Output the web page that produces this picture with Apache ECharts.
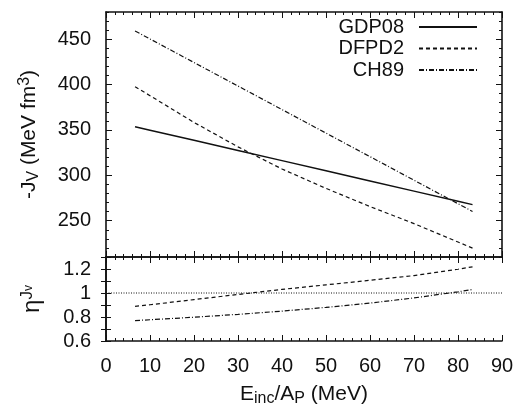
<!DOCTYPE html>
<html><head><meta charset="utf-8">
<script src="https://cdn.jsdelivr.net/npm/echarts@6/dist/echarts.min.js"></script>
<style>html,body{margin:0;padding:0;background:#fff}#c{width:529px;height:410px}</style>
</head><body><div id="c"></div>
<script>
// Data
const energies = [6.6, 10, 20, 30, 40, 50, 60, 70, 80, 83.3];
const gdp08 = [353.6, 349.8, 338.6, 327.4, 316.2, 305.0, 293.8, 282.6, 271.4, 267.7];
const dfpd2 = [397.7, 387.8, 358.3, 331.4, 307.0, 285.6, 265.6, 246.8, 226.5, 219.8];
const ch89 = [459.1, 450.3, 424.3, 398.4, 372.5, 346.5, 320.6, 294.6, 268.7, 260.2];
const etaDfpd2 = [0.889, 0.902, 0.945, 0.988, 1.030, 1.068, 1.106, 1.145, 1.198, 1.218];
const etaCh89 = [0.770, 0.777, 0.798, 0.822, 0.849, 0.880, 0.916, 0.959, 1.010, 1.029];
const refX = [0, 90];
const refEta = [1, 1];
const topTickLabels = [250, 300, 350, 400, 450];
const bottomTickLabels = [0.6, 0.8, 1, 1.2];
const seriesNames = ['GDP08', 'DFPD2', 'CH89'];

const pairs = (xs, ys) => xs.map((x, i) => [x, ys[i]]);
const FONT = 'Liberation Sans, Arial, sans-serif';
const INK = '#111';
const FS = 20;
const axisLine = { show: true, lineStyle: { color: INK, width: 1.6 } };

function xAx(grid, pos, labels, extra) {
  return Object.assign({
    type: 'value', gridIndex: grid, position: pos, min: 0, max: 90, interval: 10,
    axisLine: axisLine,
    axisTick: { show: true, inside: true, length: 6, lineStyle: { color: INK, width: 1 } },
    minorTick: { show: true, splitNumber: 5, length: 3, lineStyle: { color: INK, width: 1 } },
    axisLabel: { show: labels, color: INK, fontSize: FS, fontFamily: FONT, margin: 15 },
    splitLine: { show: false }, minorSplitLine: { show: false }
  }, extra || {});
}

const option = {
  animation: false,
  backgroundColor: '#fff',
  textStyle: { fontFamily: FONT, color: INK },
  grid: [
    { left: 106, top: 12, width: 396, height: 245, containLabel: false },
    { left: 106, top: 257, width: 396, height: 84, containLabel: false }
  ],
  legend: seriesNames.map((n, i) => ({
    data: [n], orient: 'vertical', align: 'right', right: 51, top: 17 + i * 21.5,
    padding: 0, itemWidth: 58, itemHeight: 10,
    itemStyle: { opacity: 0 },
    textStyle: { fontSize: FS, color: INK, fontFamily: FONT, padding: [0, 10, 0, 0] },
    selectedMode: false
  })),
  xAxis: [
    xAx(0, 'bottom', false),
    xAx(0, 'top', false),
    xAx(1, 'bottom', true, {
      name: 'E{sub|inc}/A{sub|P} (MeV)', nameLocation: 'middle', nameGap: 41,
      nameTextStyle: { fontSize: 21, color: INK, fontFamily: FONT,
        rich: { sub: { fontSize: 16, verticalAlign: 'bottom', padding: [9, 0, 0, 0], fontFamily: FONT, color: INK } } }
    }),
    xAx(1, 'top', false)
  ],
  yAxis: [
    { type: 'value', gridIndex: 0, position: 'left', min: 210, max: 480, interval: 10,
      axisLine: axisLine,
      axisTick: { show: true, inside: true, length: 3, lineStyle: { color: INK, width: 1 } },
      axisLabel: { show: true, customValues: topTickLabels, color: INK, fontSize: FS, fontFamily: FONT, margin: 15 },
      splitLine: { show: false },
      name: '-J{sub|V} (MeV fm{sup|3})', nameLocation: 'middle', nameRotate: 90, nameGap: 64,
      nameTextStyle: { fontSize: 21, color: INK, fontFamily: FONT,
        rich: {
          sub: { fontSize: 16, verticalAlign: 'bottom', padding: [9, 0, 0, 0], fontFamily: FONT, color: INK },
          sup: { fontSize: 16, verticalAlign: 'top', padding: [0, 0, 9, 0], fontFamily: FONT, color: INK }
        } } },
    { type: 'value', gridIndex: 0, position: 'left', min: 210, max: 480,
      axisLine: { show: false },
      axisTick: { show: true, inside: true, length: 6, customValues: topTickLabels, lineStyle: { color: INK, width: 1 } },
      axisLabel: { show: false }, splitLine: { show: false } },
    { type: 'value', gridIndex: 0, position: 'right', min: 210, max: 480, interval: 10,
      axisLine: axisLine,
      axisTick: { show: true, inside: true, length: 3, lineStyle: { color: INK, width: 1 } },
      axisLabel: { show: false }, splitLine: { show: false } },
    { type: 'value', gridIndex: 0, position: 'right', min: 210, max: 480,
      axisLine: { show: false },
      axisTick: { show: true, inside: true, length: 6, customValues: topTickLabels, lineStyle: { color: INK, width: 1 } },
      axisLabel: { show: false }, splitLine: { show: false } },
    { type: 'value', gridIndex: 1, position: 'left', min: 0.6, max: 1.3, interval: 0.1,
      axisLine: axisLine,
      axisTick: { show: true, inside: true, length: 5, lineStyle: { color: INK, width: 1 } },
      axisLabel: { show: true, customValues: bottomTickLabels, color: INK, fontSize: FS, fontFamily: FONT, margin: 15 },
      splitLine: { show: false },
      name: '{eta|η}{sup|J}{ss|v}', nameLocation: 'middle', nameRotate: 90, nameGap: 60,
      nameTextStyle: { fontSize: FS, color: INK, fontFamily: FONT,
        rich: {
          eta: { fontSize: 24, fontFamily: FONT, color: INK },
          sup: { fontSize: 17, verticalAlign: 'top', padding: [0, 0, 10, 0], fontFamily: FONT, color: INK },
          ss: { fontSize: 12, verticalAlign: 'top', padding: [4, 0, 0, 0], fontFamily: FONT, color: INK }
        } } },
    { type: 'value', gridIndex: 1, position: 'right', min: 0.6, max: 1.3, interval: 0.1,
      axisLine: axisLine,
      axisTick: { show: true, inside: true, length: 5, lineStyle: { color: INK, width: 1 } },
      axisLabel: { show: false }, splitLine: { show: false } }
  ],
  series: [
    { name: 'GDP08', type: 'line', xAxisIndex: 0, yAxisIndex: 0, symbol: 'none', silent: true,
      data: pairs(energies, gdp08), lineStyle: { color: INK, width: 1.5, type: 'solid' }, itemStyle: { color: INK } },
    { name: 'DFPD2', type: 'line', xAxisIndex: 0, yAxisIndex: 0, symbol: 'none', silent: true,
      data: pairs(energies, dfpd2), lineStyle: { color: INK, width: 1.2, type: [4, 3] }, itemStyle: { color: INK } },
    { name: 'CH89', type: 'line', xAxisIndex: 0, yAxisIndex: 0, symbol: 'none', silent: true,
      data: pairs(energies, ch89), lineStyle: { color: INK, width: 1.2, type: [5, 2, 1, 2] }, itemStyle: { color: INK } },
    { name: 'etaDFPD2', type: 'line', xAxisIndex: 2, yAxisIndex: 4, symbol: 'none', silent: true,
      data: pairs(energies, etaDfpd2), lineStyle: { color: INK, width: 1.2, type: [4, 3] } },
    { name: 'etaCH89', type: 'line', xAxisIndex: 2, yAxisIndex: 4, symbol: 'none', silent: true,
      data: pairs(energies, etaCh89), lineStyle: { color: INK, width: 1.2, type: [5, 2, 1, 2] } },
    { name: 'ref', type: 'line', xAxisIndex: 2, yAxisIndex: 4, symbol: 'none', silent: true,
      data: pairs(refX, refEta), lineStyle: { color: INK, width: 1, type: [1, 1.5] } }
  ]
};
const chart = echarts.init(document.getElementById('c'), null, { renderer: 'canvas' });
chart.setOption(option);
</script>
</body></html>
